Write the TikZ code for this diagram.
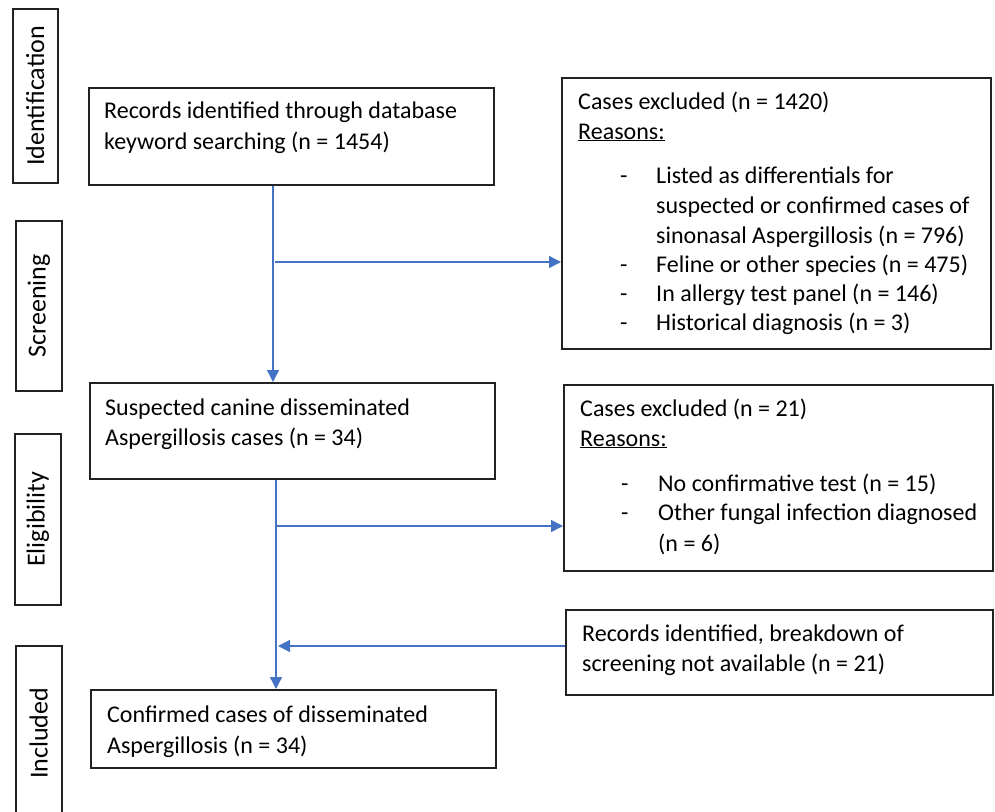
\documentclass[tikz,border=0pt]{standalone}
\usepackage{fontspec}
\setmainfont{Carlito}
\usetikzlibrary{arrows.meta}
\definecolor{arrblue}{HTML}{4472C4}
\definecolor{boxline}{HTML}{222222}
\begin{document}
\begin{tikzpicture}[x=1pt,y=-1pt,
  box/.style={draw=boxline,line width=1.8pt,rectangle,anchor=north west,inner sep=0pt},
  side/.style={draw=boxline,line width=1.6pt,rectangle,anchor=north west,inner sep=0pt},
  txt/.style={anchor=base west,inner sep=0pt,font=\fontsize{24}{30}\selectfont},
  lbl/.style={rotate=90,inner sep=0pt,font=\fontsize{26}{30}\selectfont},
  arr/.style={draw=arrblue,line width=1.3pt,-{Triangle[length=12pt,width=12pt]}}]
\useasboundingbox (0,0) rectangle (995,811);
% side boxes
\node[side,minimum width=45pt,minimum height=174pt] (sid) at (12,8) {};
\node[lbl] (lid) at (sid.center) {Identification};
\node[side,minimum width=46pt,minimum height=170pt] (ssc) at (15,220) {};
\node[lbl] (lsc) at (ssc.center) {Screening};
\node[side,minimum width=46pt,minimum height=171pt] (sel) at (14,433) {};
\node[lbl] (lel) at (sel.center) {Eligibility};
\node[side,minimum width=46pt,minimum height=175pt] (sin) at (15,645) {};
\node[lbl] (lin) at (sin.center) {Included};
% main boxes
\node[box,minimum width=405pt,minimum height=97pt] (A) at (88,87) {};
\node[txt] (a1) at (104,118) {Records identified through database};
\node[txt] (a2) at (104,149) {keyword searching (n = 1454)};
\node[box,minimum width=429pt,minimum height=271pt] (B) at (561,77) {};
\node[txt] (b1) at (578,109) {Cases excluded (n = 1420)};
\node[txt] (b2) at (578,139) {\underline{Reasons:}};
\node[txt] (b3d) at (620,183) {-};
\node[txt] (b3) at (656,183) {Listed as differentials for};
\node[txt] (b4) at (656,213) {suspected or confirmed cases of};
\node[txt] (b5) at (656,243) {sinonasal Aspergillosis (n = 796)};
\node[txt] (b6d) at (620,272) {-};
\node[txt] (b6) at (656,272) {Feline or other species (n = 475)};
\node[txt] (b7d) at (620,301) {-};
\node[txt] (b7) at (656,301) {In allergy test panel (n = 146)};
\node[txt] (b8d) at (620,330) {-};
\node[txt] (b8) at (656,330) {Historical diagnosis (n = 3)};
\node[box,minimum width=405pt,minimum height=96pt] (C) at (89,382) {};
\node[txt] (c1) at (105,415) {Suspected canine disseminated};
\node[txt] (c2) at (105,445) {Aspergillosis cases (n = 34)};
\node[box,minimum width=429pt,minimum height=186pt] (D) at (563,384) {};
\node[txt] (d1) at (580,416) {Cases excluded (n = 21)};
\node[txt] (d2) at (580,446) {\underline{Reasons:}};
\node[txt] (d3d) at (621,491) {-};
\node[txt] (d3) at (658,491) {No confirmative test (n = 15)};
\node[txt] (d4d) at (621,520) {-};
\node[txt] (d4) at (658,520) {Other fungal infection diagnosed};
\node[txt] (d5) at (658,551) {(n = 6)};
\node[box,minimum width=427pt,minimum height=85pt] (E) at (565,609) {};
\node[txt] (e1) at (582,641) {Records identified, breakdown of};
\node[txt] (e2) at (582,671) {screening not available (n = 21)};
\node[box,minimum width=405pt,minimum height=78pt] (F) at (90,689) {};
\node[txt] (f1) at (107,722) {Confirmed cases of disseminated};
\node[txt] (f2) at (107,753) {Aspergillosis (n = 34)};
% connectors
\coordinate (v1) at (273,0);
\coordinate (v2) at (276,0);
\coordinate (j1) at (275,262);
\coordinate (j2) at (276,526);
\coordinate (j3) at (278,646);
\draw[arr] (A.south -| v1) -- (C.north -| v1);
\draw[arr] (j1) -- (B.west |- j1);
\draw[arr] (C.south -| v2) -- (F.north -| v2);
\draw[arr] (j2) -- (D.west |- j2);
\draw[arr] (E.west |- j3) -- (j3);
\end{tikzpicture}
\end{document}
